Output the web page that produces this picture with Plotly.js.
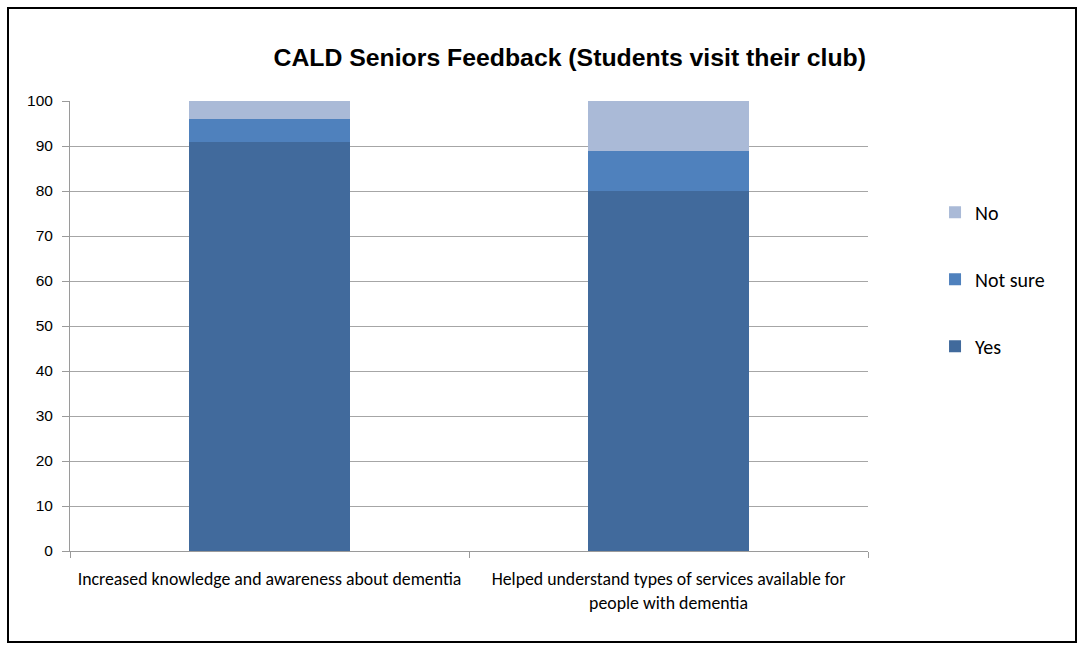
<!DOCTYPE html>
<html>
<head>
<meta charset="utf-8">
<script src="https://cdn.plot.ly/plotly-3.0.1.min.js"></script>
<style>
  html, body { margin: 0; padding: 0; background: #fff; }
  #chart { position: absolute; left: 7px; top: 7px; width: 1066px; height: 632px; border: 2px solid #000; }
</style>
</head>
<body>
<div id="chart"></div>
<script>
const categories = [
  "Increased knowledge and awareness about dementia",
  "Helped understand types of services available for<br>people with dementia"
];
const yesValues = [91, 80];
const notSureValues = [5, 9];
const noValues = [4, 11];
const yTicks = [0, 10, 20, 30, 40, 50, 60, 70, 80, 90, 100];

const labelFont = "Carlito, Lato, 'Liberation Sans', sans-serif";

const traces = [
  { name: "Yes", y: yesValues, color: "#416A9C", rank: 3 },
  { name: "Not sure", y: notSureValues, color: "#4F81BD", rank: 2 },
  { name: "No", y: noValues, color: "#AABAD7", rank: 1 }
].map((s, i) => ({
  type: "bar",
  name: s.name,
  x: categories,
  y: s.y,
  legendgroup: "g" + i,
  legendrank: s.rank,
  marker: { color: s.color, line: { width: 0 } },
  hoverinfo: "x+y+name"
}));

const layout = {
  width: 1066,
  height: 632,
  margin: { l: 61, r: 207, t: 92, b: 90 },
  paper_bgcolor: "#fff",
  plot_bgcolor: "#fff",
  barmode: "stack",
  bargap: 0.597,
  showlegend: true,
  title: {
    text: "<b>CALD Seniors Feedback (Students visit their club)</b>",
    font: { family: "'Liberation Sans', Arial, sans-serif", size: 24.8, color: "#000" },
    xref: "container", x: 0.526, xanchor: "center",
    yref: "container", y: 0.923, yanchor: "middle"
  },
  legend: {
    x: 1.084, xanchor: "left",
    y: 0.796, yanchor: "top",
    traceorder: "grouped",
    tracegroupgap: 38,
    font: { family: labelFont, size: 20, color: "#000" },
    bgcolor: "rgba(0,0,0,0)"
  },
  xaxis: {
    type: "category",
    showgrid: false,
    showline: true,
    linecolor: "#9A9A9A",
    linewidth: 1,
    ticks: "outside",
    tickson: "boundaries",
    ticklen: 6,
    tickcolor: "#9A9A9A",
    tickfont: { family: labelFont, size: 17.8, color: "#000" },
    ticklabelstandoff: 12,
    fixedrange: true
  },
  yaxis: {
    range: [0, 100],
    tickvals: yTicks,
    ticktext: yTicks.map(String),
    showgrid: true,
    gridcolor: "#A6A6A6",
    gridwidth: 1,
    showline: true,
    linecolor: "#9A9A9A",
    linewidth: 1,
    ticks: "outside",
    ticklen: 7,
    tickcolor: "#9A9A9A",
    tickfont: { family: "'Liberation Sans', Arial, sans-serif", size: 15.5, color: "#000" },
    ticklabelstandoff: 6,
    zeroline: false,
    fixedrange: true
  }
};

Plotly.newPlot("chart", traces, layout, { displayModeBar: false });
</script>
</body>
</html>
